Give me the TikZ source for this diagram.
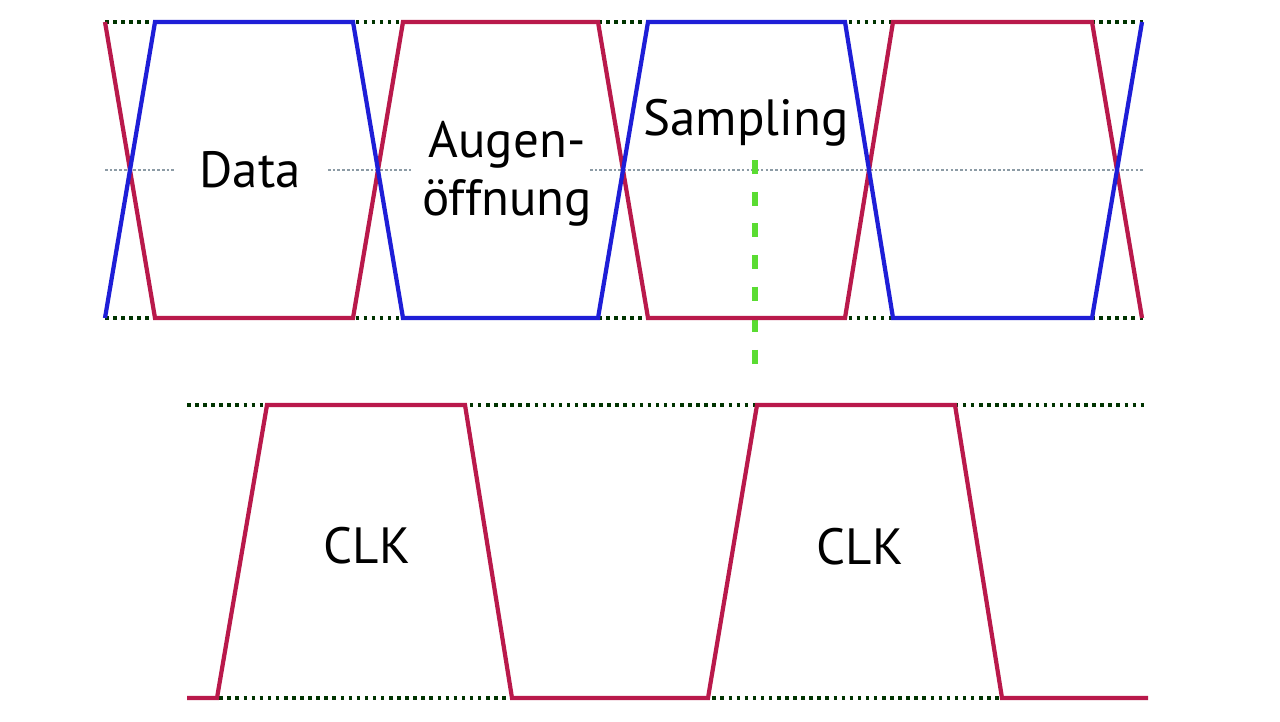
\documentclass[tikz,border=0pt]{standalone}
\usepackage{fontspec}
\setmainfont{PT Sans}
\usepackage{tikz}
\usetikzlibrary{positioning}
\definecolor{sigred}{RGB}{185,25,75}
\definecolor{sigblue}{RGB}{30,30,215}
\definecolor{samplegreen}{RGB}{90,220,50}
\definecolor{midgray}{RGB}{140,155,165}

\begin{document}
\begin{tikzpicture}[x=0.02cm,y=-0.02cm,
    level/.style={line width=2.2pt,dash pattern=on 2pt off 2.6pt,black!80!green},
    midline/.style={line width=1pt,dash pattern=on 1.5pt off 1.2pt,midgray},
    trace/.style={line width=2.4pt,line join=miter},
    label/.style={font=\fontsize{29}{33}\selectfont,inner sep=0pt,align=center}]
    \useasboundingbox (0,0) rectangle (1280,721);
    \fill[white] (0,0) rectangle (1280,721);
    % data levels
    \draw[level] (105,22) -- (1145,22);
    \draw[level] (105,318) -- (1145,318);
    \draw[midline] (105,170) -- (175,170);
    \draw[midline] (328,170) -- (412,170);
    \draw[midline] (590,170) -- (1145,170);
    % clock levels
    \draw[level] (187,405) -- (1148,405);
    \draw[level] (187,698) -- (1148,698);
    % sampling point
    \draw[samplegreen,line width=3.4pt,dash pattern=on 8pt off 10pt] (755,160) -- (755,378);
    % data eye
    \draw[trace,sigred] (105,22) -- (155,318) -- (353,318) -- (403,22) -- (598,22)
        -- (648,318) -- (845,318) -- (893,22) -- (1092,22) -- (1142,318);
    \draw[trace,sigblue] (105,318) -- (155,22) -- (353,22) -- (403,318) -- (598,318)
        -- (648,22) -- (845,22) -- (893,318) -- (1092,318) -- (1142,22);
    % clock
    \draw[trace,sigred] (187,698) -- (217,698) -- (267,405) -- (465,405) -- (512,698)
        -- (708,698) -- (757,405) -- (955,405) -- (1002,698) -- (1148,698);
    % labels
    \node[label,anchor=base] (data) at (250,187) {Data};
    \node[label,anchor=base] (eye) at (507,215) {Augen-\\öffnung};
    \node[label,anchor=base] (sampling) at (746,135) {Sampling};
    \node[label,anchor=base] (clkA) at (367,563) {CLK};
    \node[label,anchor=base] (clkB) at (860,564) {CLK};
\end{tikzpicture}
\end{document}
